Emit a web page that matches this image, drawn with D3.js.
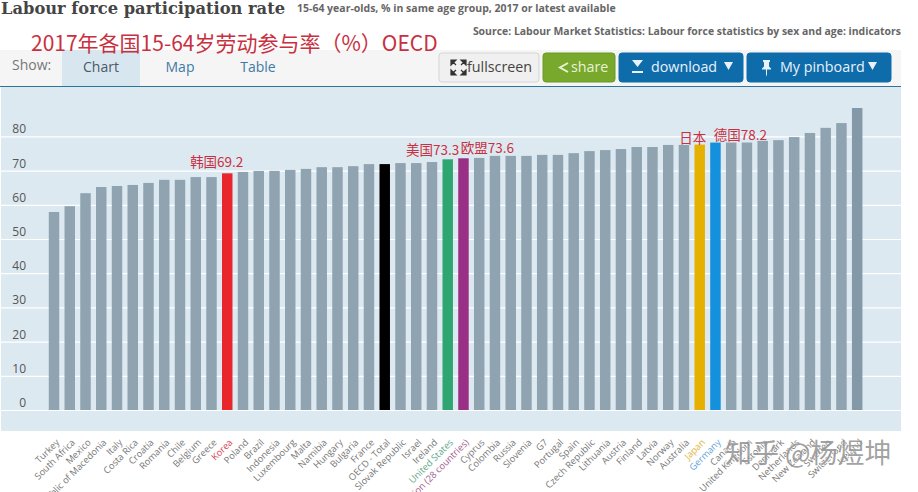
<!DOCTYPE html>
<html>
<head>
<meta charset="utf-8">
<script src="https://cdnjs.cloudflare.com/ajax/libs/d3/7.8.5/d3.min.js"></script>
<style>
  html, body { margin: 0; background: #fff; overflow: hidden; }
  text { font-family: "Open Sans", sans-serif; }
</style>
</head>
<body>
<div id="chart"></div>
<script>
const countries = ["Turkey", "South Africa", "Mexico", "Republic of Macedonia", "Italy", "Costa Rica", "Croatia", "Romania", "Chile", "Belgium", "Greece", "Korea", "Poland", "Brazil", "Indonesia", "Luxembourg", "Malta", "Namibia", "Hungary", "Bulgaria", "France", "OECD - Total", "Slovak Republic", "Israel", "Ireland", "United States", "European Union (28 countries)", "Cyprus", "Colombia", "Russia", "Slovenia", "G7", "Portugal", "Spain", "Czech Republic", "Lithuania", "Austria", "Finland", "Latvia", "Norway", "Australia", "Japan", "Germany", "Canada", "United Kingdom", "Estonia", "Denmark", "Netherlands", "New Zealand", "Sweden", "Switzerland", "Iceland"];
const rates = [57.9, 59.6, 63.4, 65.2, 65.5, 65.8, 66.4, 67.3, 67.3, 68.1, 68.1, 69.2, 69.6, 69.9, 69.9, 70.2, 70.5, 71.0, 71.0, 71.3, 71.9, 71.9, 72.2, 72.2, 72.5, 73.3, 73.6, 73.7, 74.3, 74.3, 74.3, 74.6, 74.6, 75.1, 75.7, 76.0, 76.3, 76.9, 76.9, 77.5, 77.5, 77.6, 78.2, 78.2, 78.2, 78.7, 78.9, 79.8, 81.0, 82.5, 83.9, 88.3];
const yTicks = [0, 10, 20, 30, 40, 50, 60, 70, 80];

const noteCountries = ["Korea", "United States", "European Union (28 countries)", "Japan", "Germany"];
const noteTexts = ["韩国69.2", "美国73.3", "欧盟73.6", "日本", "德国78.2"];

const titleText = "Labour force participation rate";
const subtitleText = "15-64 year-olds, % in same age group, 2017 or latest available";
const sourceText = "Source: Labour Market Statistics: Labour force statistics by sex and age: indicators";
const redTitle = "2017年各国15-64岁劳动参与率（%）OECD";
const watermark = "知乎 @杨煜坤";

const barColors = { "Korea": "#e8262c", "OECD - Total": "#000000", "United States": "#2fa672", "European Union (28 countries)": "#9a2f86", "Japan": "#e6b000", "Germany": "#1590dc", "Iceland": "#8499a8" };
const labelColors = { "Korea": "#d8404f", "United States": "#5fa88a", "European Union (28 countries)": "#a0608f", "Japan": "#e0b23c", "Germany": "#5f9fdc" };

const svg = d3.select("#chart").append("svg").attr("width", 918).attr("height", 492);

// panel + toolbar
svg.append("rect").attr("x", 1).attr("y", 87).attr("width", 900).attr("height", 344).attr("fill", "#dde9f1");
svg.append("rect").attr("x", 0).attr("y", 50).attr("width", 901).attr("height", 36).attr("fill", "#f5f5f5");
svg.append("rect").attr("x", 62).attr("y", 50).attr("width", 78).attr("height", 36).attr("fill", "#d8e6f0");
svg.append("rect").attr("x", 0).attr("y", 86).attr("width", 901).attr("height", 1).attr("fill", "#2f7396");

// scales
var x = d3.scaleBand().domain(countries).range([46.1, 865.1]).paddingInner(0.335).paddingOuter(0.17);
var y = d3.scaleLinear().domain([0, 80]).range([410, 136.4]);

// y axis with the white grid lines
var yAxis = svg.append("g")
    .attr("transform", "translate(1,0)")
    .call(d3.axisLeft(y).tickValues(yTicks).tickSizeInner(-900).tickSizeOuter(0).tickPadding(0));
yAxis.select(".domain").remove();
yAxis.selectAll("line").attr("stroke", "#fff").attr("stroke-width", 1.2);
yAxis.selectAll("text")
    .attr("x", 25).attr("dy", "-0.3em")
    .attr("fill", "#555").style("font-size", "12px").style("font-family", "'Open Sans', sans-serif");

// bars
svg.selectAll(".bar")
    .data(countries)
    .enter()
    .append("rect")
    .attr("class", "bar")
    .attr("x", function(d) { return x(d); })
    .attr("y", function(d, i) { return y(rates[i]); })
    .attr("width", x.bandwidth())
    .attr("height", function(d, i) { return y(0) - y(rates[i]); })
    .attr("fill", function(d) { return barColors[d] || "#8fa3b1"; });

// x axis
var xAxis = svg.append("g")
    .attr("transform", "translate(0,431)")
    .call(d3.axisBottom(x).tickSize(0));
xAxis.select(".domain").remove();
xAxis.selectAll("text")
    .attr("transform", "translate(6,12)rotate(-45)")
    .attr("x", 0).attr("y", 0).attr("dy", 0)
    .style("text-anchor", "end")
    .style("font-size", "9.3px")
    .style("font-family", "'Open Sans', sans-serif")
    .attr("fill", function(d) { return labelColors[d] || "#777"; });

// red notes over the highlighted bars
const noteShift = [-10.5, -15, 24, -7, 25];
const noteLift = [6, 4, 5, 2, 3];
svg.selectAll(".note")
    .data(noteCountries)
    .enter()
    .append("text")
    .attr("class", "note")
    .attr("x", function(d, i) { return x(d) + x.bandwidth() / 2 + noteShift[i]; })
    .attr("y", function(d, i) { return y(rates[countries.indexOf(d)]) - noteLift[i]; })
    .attr("text-anchor", "middle")
    .attr("fill", "#c9303f")
    .style("font-size", "13.5px")
    .style("font-family", "'Noto Sans CJK SC', sans-serif")
    .text(function(d, i) { return noteTexts[i]; });

// titles
svg.append("text").attr("x", 1).attr("y", 14).attr("fill", "#444")
    .style("font-family", "'DejaVu Serif', serif").style("font-weight", "bold").style("font-size", "16.3px").text(titleText);
svg.append("text").attr("x", 297).attr("y", 12).attr("fill", "#666")
    .style("font-weight", "bold").style("font-size", "10.5px").text(subtitleText);
svg.append("text").attr("x", 901).attr("y", 35).attr("text-anchor", "end").attr("fill", "#666")
    .style("font-weight", "bold").style("font-size", "10.45px").text(sourceText);
svg.append("text").attr("x", 31).attr("y", 51).attr("fill", "#c9303f")
    .style("font-family", "'Noto Sans CJK SC', sans-serif").style("font-size", "21px").text(redTitle);

// tabs
svg.append("text").attr("x", 12).attr("y", 70).attr("fill", "#777").style("font-size", "14px").text("Show:");
svg.append("text").attr("x", 101).attr("y", 72).attr("text-anchor", "middle").attr("fill", "#4a5a66").style("font-size", "14px").text("Chart");
svg.append("text").attr("x", 180).attr("y", 72).attr("text-anchor", "middle").attr("fill", "#3f7aa6").style("font-size", "14px").text("Map");
svg.append("text").attr("x", 258).attr("y", 72).attr("text-anchor", "middle").attr("fill", "#3f7aa6").style("font-size", "14px").text("Table");

// toolbar buttons
function button(x0, w, fill, stroke, label, labelX, color) {
  svg.append("rect").attr("x", x0).attr("y", 53).attr("width", w).attr("height", 29).attr("rx", 3)
      .attr("fill", fill).attr("stroke", stroke);
  svg.append("text").attr("x", labelX).attr("y", 72).attr("fill", color).style("font-size", "14.3px").text(label);
}
button(439, 100, "#f0f0f0", "#d5d5d5", "fullscreen", 467, "#444");
button(543, 72, "#78a82c", "#6b9a25", "share", 571, "#e8f2d8");
button(619, 124, "#0f6cab", "#0f6cab", "download", 651, "#e8f2fa");
button(747, 144, "#0f6cab", "#0f6cab", "My pinboard", 780, "#e8f2fa");

// button icons
svg.append("path").attr("d", "M451 60h5l-5 5zM466 60v5l-5-5zM451 75v-5l5 5zM466 75h-5l5-5z M453 62l3 3 M464 62l-3 3 M453 73l3-3 M464 73l-3-3")
    .attr("fill", "#333").attr("stroke", "#333").attr("stroke-width", 1.2);
svg.append("path").attr("d", "M568 63l-8 4.5 8 4.5").attr("fill", "none").attr("stroke", "#e8f2d8").attr("stroke-width", 2);
svg.append("path").attr("d", "M632 60h11l-5.5 7zM632 71h11v2h-11z").attr("fill", "#e8f2fa");
svg.append("path").attr("d", "M763 60h7v1.5l-1 1v4l2 2v1h-4v5l-.5 2-.5-2v-5h-4v-1l2-2v-4l-1-1z").attr("fill", "#e8f2fa");
svg.append("path").attr("d", "M724 62h9l-4.5 8zM868 62h9l-4.5 8z").attr("fill", "#e8f2fa");

// watermark
svg.append("text").attr("x", 725).attr("y", 463).attr("fill", "#8a8a8a").attr("fill-opacity", 0.8)
    .attr("stroke", "#fff").attr("stroke-opacity", 0.5).attr("stroke-width", 1.5).style("paint-order", "stroke")
    .style("font-family", "'Noto Sans CJK SC', sans-serif").style("font-size", "27px").text(watermark);
</script>
</body>
</html>
